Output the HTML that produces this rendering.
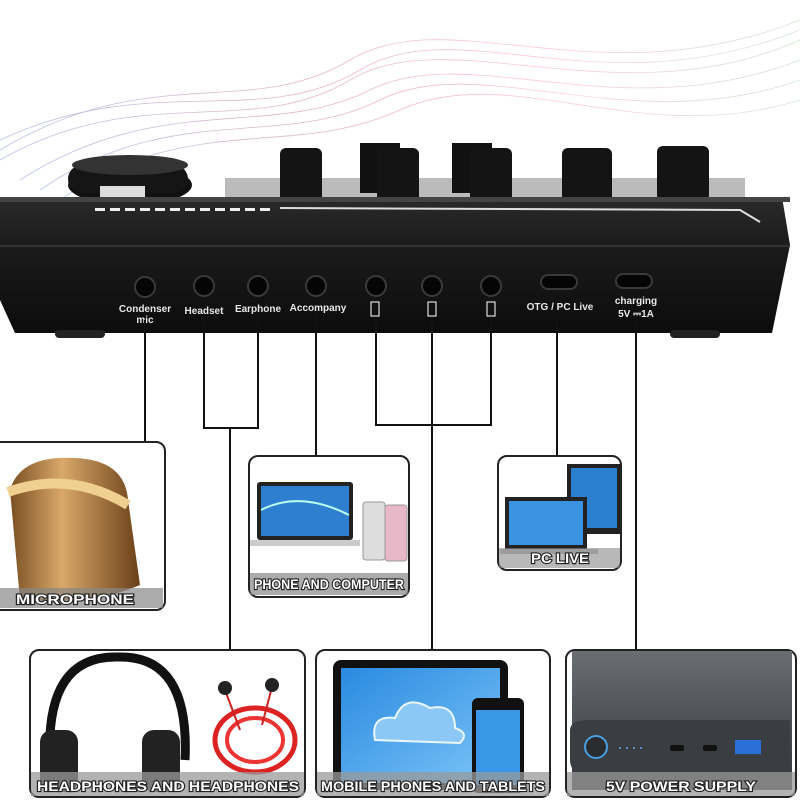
<!DOCTYPE html>
<html><head><meta charset="utf-8"><style>
body{margin:0;background:#fff;}
svg{display:block}
.lb{font-family:"Liberation Sans",sans-serif;font-weight:bold;font-size:10px;fill:#e8e8e8}
.cap{font-family:"Liberation Sans",sans-serif;font-weight:bold;font-size:14px;fill:#fff;stroke:#222;stroke-width:2.2px;paint-order:stroke}
</style></head><body>
<svg width="800" height="800" viewBox="0 0 800 800" xmlns="http://www.w3.org/2000/svg">
<defs>
<linearGradient id="wave" x1="0" x2="1"><stop offset="0" stop-color="#9ad"/><stop offset=".4" stop-color="#d9a"/><stop offset=".7" stop-color="#fbc"/><stop offset="1" stop-color="#bdb"/></linearGradient>
<linearGradient id="body" x1="0" y1="0" x2="0" y2="1"><stop offset="0" stop-color="#2a2a2a"/><stop offset=".4" stop-color="#1a1a1a"/><stop offset="1" stop-color="#0c0c0c"/></linearGradient>
<linearGradient id="gold" x1="0" x2="1"><stop offset="0" stop-color="#7a5022"/><stop offset=".4" stop-color="#d9a86a"/><stop offset="1" stop-color="#6a4018"/></linearGradient>
<linearGradient id="pb" x1="0" y1="0" x2="0" y2="1"><stop offset="0" stop-color="#6a6d72"/><stop offset="1" stop-color="#33363a"/></linearGradient>
<linearGradient id="scr" x1="0" y1="0" x2="1" y2="1"><stop offset="0" stop-color="#2a8ae0"/><stop offset="1" stop-color="#7cc4f8"/></linearGradient>
</defs>
<g fill="none" stroke="url(#wave)" stroke-width="0.8" opacity=".7">
<path d="M0 150 C150 60 250 120 350 60 S600 100 800 20"/>
<path d="M0 140 C150 70 260 130 360 70 S600 110 800 30"/>
<path d="M0 160 C140 80 250 140 350 80 S620 120 800 40"/>
<path d="M20 180 C160 90 270 140 370 90 S620 130 800 60"/>
<path d="M40 190 C170 100 280 150 380 100 S630 140 800 80"/>
<path d="M60 200 C190 110 290 160 400 110 S640 150 800 100"/>
</g>
<ellipse cx="130" cy="185" rx="62" ry="20" fill="#111"/>
<rect x="68" y="165" width="120" height="28" rx="14" fill="#151515"/>
<ellipse cx="130" cy="165" rx="58" ry="10" fill="#333"/>
<rect x="100" y="186" width="45" height="12" fill="#ddd"/>
<rect x="225" y="178" width="520" height="20" fill="#bbb"/>
<rect x="360" y="143" width="40" height="50" fill="#111"/>
<rect x="452" y="143" width="40" height="50" fill="#111"/>
<g fill="#141414">
<rect x="280" y="148" width="42" height="55" rx="6"/><rect x="377" y="148" width="42" height="55" rx="6"/><rect x="470" y="148" width="42" height="55" rx="6"/><rect x="562" y="148" width="50" height="55" rx="6"/><rect x="657" y="146" width="52" height="55" rx="6"/>
</g>
<path d="M0 197 L782 197 L790 245 L772 333 L15 333 L0 300 Z" fill="url(#body)"/>
<rect x="0" y="197" width="790" height="5" fill="#444"/>
<g fill="#eee"><rect x="95" y="208" width="10" height="3"/><rect x="110" y="208" width="10" height="3"/><rect x="125" y="208" width="10" height="3"/><rect x="140" y="208" width="10" height="3"/><rect x="155" y="208" width="10" height="3"/><rect x="170" y="208" width="10" height="3"/><rect x="185" y="208" width="10" height="3"/><rect x="200" y="208" width="10" height="3"/><rect x="215" y="208" width="10" height="3"/><rect x="230" y="208" width="10" height="3"/><rect x="245" y="208" width="10" height="3"/><rect x="260" y="208" width="10" height="3"/></g>
<path d="M280 208 L740 210 L760 222" stroke="#ddd" stroke-width="2" fill="none"/>
<rect x="0" y="245" width="790" height="2" fill="#333"/>
<rect x="55" y="330" width="50" height="8" rx="4" fill="#222"/><rect x="670" y="330" width="50" height="8" rx="4" fill="#222"/>
<g fill="#050505" stroke="#3a3a3a" stroke-width="2">
<circle cx="145" cy="287" r="10"/><circle cx="204" cy="286" r="10"/><circle cx="258" cy="286" r="10"/><circle cx="316" cy="286" r="10"/><circle cx="376" cy="286" r="10"/><circle cx="432" cy="286" r="10"/><circle cx="491" cy="286" r="10"/>
<rect x="541" y="275" width="36" height="14" rx="7"/><rect x="616" y="274" width="36" height="14" rx="7"/>
</g>
<text class="lb" x="145" y="312" text-anchor="middle">Condenser</text>
<text class="lb" x="145" y="323" text-anchor="middle">mic</text>
<text class="lb" x="204" y="314" text-anchor="middle">Headset</text>
<text class="lb" x="258" y="312" text-anchor="middle" font-size="8">Earphone</text>
<text class="lb" x="318" y="311" text-anchor="middle">Accompany</text>
<g fill="none" stroke="#ddd" stroke-width="1.2"><rect x="371" y="302" width="8" height="14"/><rect x="428" y="302" width="8" height="14"/><rect x="487" y="302" width="8" height="14"/></g>
<text class="lb" x="560" y="310" text-anchor="middle" font-size="9">OTG / PC Live</text>
<text class="lb" x="636" y="304" text-anchor="middle" font-size="11">charging</text>
<text class="lb" x="636" y="317" text-anchor="middle" font-size="10">5V ⎓1A</text>
<g stroke="#111" stroke-width="2" fill="none">
<path d="M145 320 V442"/><path d="M204 318 V428 H258 V312"/><path d="M230 428 V652"/>
<path d="M316 314 V457"/><path d="M376 318 V425 H491 V318"/><path d="M432 318 V652"/>
<path d="M557 314 V457"/><path d="M636 320 V652"/>
</g>
<g fill="#fff" stroke="#222" stroke-width="2">
<rect x="-10" y="442" width="175" height="168" rx="9"/>
<rect x="249" y="456" width="160" height="141" rx="9"/>
<rect x="498" y="456" width="123" height="114" rx="9"/>
<rect x="30" y="650" width="275" height="147" rx="9"/>
<rect x="316" y="650" width="234" height="147" rx="9"/>
<rect x="566" y="650" width="230" height="147" rx="9"/>
</g>
<path d="M10 490 Q20 455 75 458 Q125 460 128 500 L140 585 Q80 610 20 600 Z" fill="url(#gold)"/>
<path d="M8 492 Q70 470 128 505" stroke="#f0d090" stroke-width="10" fill="none"/>
<rect x="0" y="588" width="163" height="20" fill="#888" opacity=".7"/>
<text class="cap" x="75" y="604" text-anchor="middle" textLength="118" lengthAdjust="spacingAndGlyphs">MICROPHONE</text>
<rect x="257" y="482" width="96" height="58" rx="3" fill="#222"/>
<rect x="261" y="486" width="88" height="50" fill="#2e7fd0"/>
<path d="M261 510 Q300 490 349 515" stroke="#bfe" fill="none" stroke-width="2"/>
<rect x="250" y="540" width="110" height="6" fill="#ccc"/>
<rect x="363" y="502" width="22" height="58" rx="3" fill="#ddd" stroke="#999"/>
<rect x="385" y="505" width="22" height="56" rx="3" fill="#e8b8c8" stroke="#999"/>
<rect x="250" y="573" width="158" height="22" fill="#888" opacity=".7"/>
<text class="cap" x="329" y="589" text-anchor="middle" font-size="12" textLength="150" lengthAdjust="spacingAndGlyphs">PHONE AND COMPUTER</text>
<rect x="567" y="464" width="54" height="70" fill="#222"/><rect x="571" y="468" width="46" height="60" fill="#2b7fcf"/>
<rect x="505" y="497" width="82" height="52" fill="#222"/><rect x="509" y="501" width="74" height="44" fill="#3a93e0"/>
<rect x="500" y="549" width="98" height="5" fill="#bbb"/>
<rect x="499" y="548" width="121" height="20" fill="#888" opacity=".6"/>
<text class="cap" x="560" y="563" text-anchor="middle" font-size="12" textLength="58" lengthAdjust="spacingAndGlyphs">PC LIVE</text>
<path d="M50 760 Q45 655 118 657 Q190 655 185 760" stroke="#111" stroke-width="9" fill="none"/>
<rect x="40" y="730" width="38" height="62" rx="12" fill="#222"/><rect x="142" y="730" width="38" height="62" rx="12" fill="#222"/>
<ellipse cx="255" cy="740" rx="40" ry="32" fill="none" stroke="#d22" stroke-width="5"/>
<ellipse cx="255" cy="740" rx="28" ry="22" fill="none" stroke="#e33" stroke-width="4"/>
<path d="M225 690 L240 730 M272 687 L262 725" stroke="#c22" stroke-width="2"/>
<circle cx="225" cy="688" r="7" fill="#222"/><circle cx="272" cy="685" r="7" fill="#222"/>
<rect x="31" y="772" width="273" height="24" fill="#999" opacity=".75"/>
<text class="cap" x="168" y="791" text-anchor="middle" font-size="15" textLength="262" lengthAdjust="spacingAndGlyphs">HEADPHONES AND HEADPHONES</text>
<rect x="333" y="660" width="175" height="130" rx="8" fill="#111"/>
<rect x="341" y="668" width="159" height="115" fill="url(#scr)"/>
<path d="M375 740 q-5-25 20-22 q10-25 35-10 q25-5 25 20 q15 5 5 15 z" fill="#8cc8f5" stroke="#e8f6ff" stroke-width="2"/>
<rect x="472" y="698" width="52" height="95" rx="6" fill="#111"/>
<rect x="476" y="710" width="44" height="75" fill="#3a96e6"/>
<rect x="317" y="772" width="232" height="24" fill="#999" opacity=".75"/>
<text class="cap" x="433" y="791" text-anchor="middle" font-size="15" textLength="224" lengthAdjust="spacingAndGlyphs">MOBILE PHONES AND TABLETS</text>
<path d="M572 651 H792 V790 H572 Z" fill="url(#pb)"/>
<path d="M570 730 Q570 720 590 720 H790 V775 H590 Q570 775 570 760 Z" fill="#3a3d42"/>
<circle cx="596" cy="747" r="11" fill="#2a2c30" stroke="#4a9ee0" stroke-width="2"/>
<g fill="#6af"><circle cx="620" cy="748" r="1"/><circle cx="627" cy="748" r="1"/><circle cx="634" cy="748" r="1"/><circle cx="641" cy="748" r="1"/></g>
<rect x="670" y="745" width="14" height="6" rx="2" fill="#111"/><rect x="703" y="745" width="14" height="6" rx="2" fill="#111"/>
<rect x="735" y="740" width="26" height="14" fill="#2a6fd8"/>
<rect x="567" y="772" width="228" height="24" fill="#999" opacity=".75"/>
<text class="cap" x="681" y="791" text-anchor="middle" font-size="15" textLength="150" lengthAdjust="spacingAndGlyphs">5V POWER SUPPLY</text>
</svg>
</body></html>
